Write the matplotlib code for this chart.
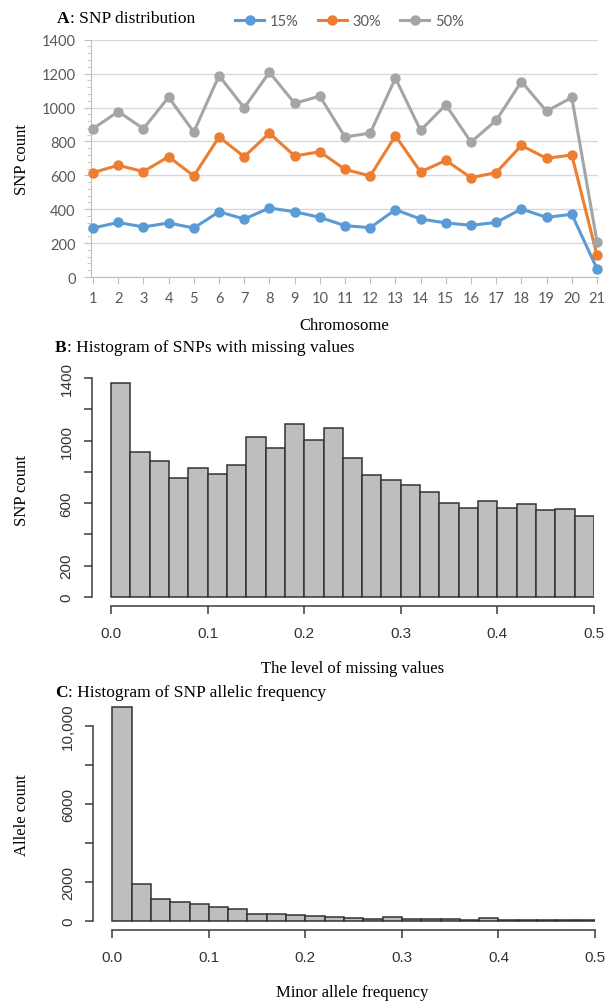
import numpy as np
import matplotlib
matplotlib.use("Agg")
import matplotlib.pyplot as plt

# ---- data ----
chromosomes = list(range(1, 22))
snp_15 = [289, 322, 295, 319, 289, 385, 342, 407, 385, 352, 303, 291, 397, 342, 319, 305, 322, 401, 352, 370, 49]
snp_30 = [616, 659, 622, 710, 596, 826, 710, 849, 714, 739, 635, 596, 833, 620, 688, 586, 616, 776, 700, 720, 127]
snp_50 = [875, 976, 875, 1061, 855, 1188, 998, 1208, 1025, 1067, 826, 849, 1173, 865, 1016, 796, 924, 1153, 978, 1059, 209]
series_labels = ["15%", "30%", "50%"]

missing_counts = [1370, 925, 867, 763, 822, 788, 844, 1026, 951, 1107, 1006, 1083, 886,
                  781, 749, 718, 673, 602, 568, 611, 568, 592, 555, 560, 517]
maf_counts = [10950, 1880, 1150, 980, 860, 720, 620, 360, 360, 310, 260, 190, 170,
              120, 190, 120, 120, 120, 60, 170, 60, 60, 60, 60, 60]
bin_width = 0.02

W, H = 607, 1003
SERIF = ["Liberation Serif", "DejaVu Serif"]
SANS = ["Liberation Sans", "DejaVu Sans"]
EXCEL = ["Lato", "DejaVu Sans"]

fig = plt.figure(figsize=(W / 100, H / 100), dpi=100)


def box(x0, y0, x1, y1):
    # pixel box (top-left origin) -> figure axes rect
    return [x0 / W, 1 - y1 / H, (x1 - x0) / W, (y1 - y0) / H]


def title(x, y, letter, rest):
    t = fig.text(x / W, 1 - y / H, letter, family=SERIF, fontweight="bold",
                 fontsize=12.5, va="center", ha="left")
    plt.annotate(rest, xy=(1, 0), xycoords=t, va="bottom", ha="left",
                 family=SERIF, fontsize=12.5, annotation_clip=False)


# ---------------- A: line chart ----------------
axA = fig.add_axes(box(91, 40.7, 598, 278))
colors = ["#5B9BD5", "#ED7D31", "#A5A5A5"]
for vals, c, lab in zip([snp_15, snp_30, snp_50], colors, series_labels):
    axA.plot(chromosomes, vals, color=c, lw=2.2, marker="o", ms=6.5, label=lab,
             clip_on=False, zorder=3)
axA.set_xlim(0.92, 21.04)
axA.set_ylim(0, 1400)
axA.set_yticks(np.arange(0, 1401, 200))
axA.set_yticks(np.arange(0, 1401, 40), minor=True)
axA.set_xticks(chromosomes)
axA.grid(axis="y", color="#D9D9D9", lw=1)
axA.set_axisbelow(True)
for s in ["top", "right"]:
    axA.spines[s].set_visible(False)
for s in ["left", "bottom"]:
    axA.spines[s].set_color("#BFBFBF")
axA.tick_params(axis="y", which="major", length=5, color="#BFBFBF", labelsize=10.5,
                labelcolor="#595959", pad=6)
axA.tick_params(axis="y", which="minor", length=3, color="#BFBFBF")
axA.tick_params(axis="x", length=5, color="#BFBFBF", labelsize=10.5, labelcolor="#595959", pad=5)
for lab in axA.get_xticklabels() + axA.get_yticklabels():
    lab.set_family(EXCEL)
axA.set_xlabel("Chromosome", family=SERIF, fontsize=12, labelpad=9)
axA.yaxis.set_label_coords(-(91 - 22) / (598 - 91), 0.5)
axA.set_ylabel("SNP count", family=SERIF, fontsize=12, va="center")
leg = axA.legend(loc="center left", bbox_to_anchor=(235 / W, 1 - 22 / H),
                 bbox_transform=fig.transFigure, ncol=3, frameon=False,
                 borderaxespad=0, borderpad=0,
                 handlelength=2.0, handletextpad=0.4, columnspacing=1.3,
                 prop={"family": EXCEL, "size": 10.5})
for t in leg.get_texts():
    t.set_color("#595959")
title(57, 19, "A", ": SNP distribution")


# ---------------- R style histograms ----------------
def r_hist(rect, counts, ylim, yticks, ylabels, xlabel, ylabel, xlab_y, ylab_x=22):
    ax = fig.add_axes(rect)
    edges = np.arange(len(counts)) * bin_width
    ax.bar(edges, counts, width=bin_width, align="edge", color="#BEBEBE",
           edgecolor="#333333", lw=1.1)
    ax.set_xlim(-0.02, 0.5)
    ax.set_ylim(*ylim)
    ax.spines["top"].set_visible(False)
    ax.spines["right"].set_visible(False)
    ax.spines["left"].set_bounds(yticks[0], yticks[-1])
    ax.spines["bottom"].set_bounds(0, 0.5)
    for s in ["left", "bottom"]:
        ax.spines[s].set_color("#3A3A3A")
        ax.spines[s].set_linewidth(1.1)
    ax.set_xticks([0, 0.1, 0.2, 0.3, 0.4, 0.5])
    ax.set_xticklabels(["0.0", "0.1", "0.2", "0.3", "0.4", "0.5"])
    ax.set_yticks(yticks)
    ax.set_yticklabels(ylabels, rotation=90, va="center")
    ax.tick_params(length=6, width=1.1, color="#3A3A3A", labelsize=11, labelcolor="#333333")
    ax.tick_params(axis="x", pad=9)
    ax.tick_params(axis="y", pad=7)
    for lab in ax.get_xticklabels() + ax.get_yticklabels():
        lab.set_family(SANS)
    fig.text((111 + 594) / 2 / W, 1 - xlab_y / H, xlabel, family=SERIF, fontsize=12,
             ha="center", va="center")
    ax.yaxis.set_label_coords(-(rect[0] * W - ylab_x) / (rect[2] * W), 0.5)
    ax.set_ylabel(ylabel, family=SERIF, fontsize=12, va="center")
    return ax


pxB = 219 / 1400
r_hist(box(91.7, 379 - 25 * pxB, 594, 598 + 55 * pxB), missing_counts,
       (-55, 1425), [0, 200, 400, 600, 800, 1000, 1200, 1400],
       ["0", "200", "", "600", "", "1000", "", "1400"],
       "The level of missing values", "SNP count", 669)
title(55, 348, "B", ": Histogram of SNPs with missing values")

pxC = 195 / 10000
r_hist(box(93, 727 - 1388 * pxC, 595, 922 + 438 * pxC), maf_counts,
       (-438, 11388), [0, 2000, 4000, 6000, 8000, 10000],
       ["0", "2000", "", "6000", "", "10,000"],
       "Minor allele frequency", "Allele count", 993)
title(55, 693, "C", ": Histogram of SNP allelic frequency")

fig.savefig("out.png", dpi=100)
